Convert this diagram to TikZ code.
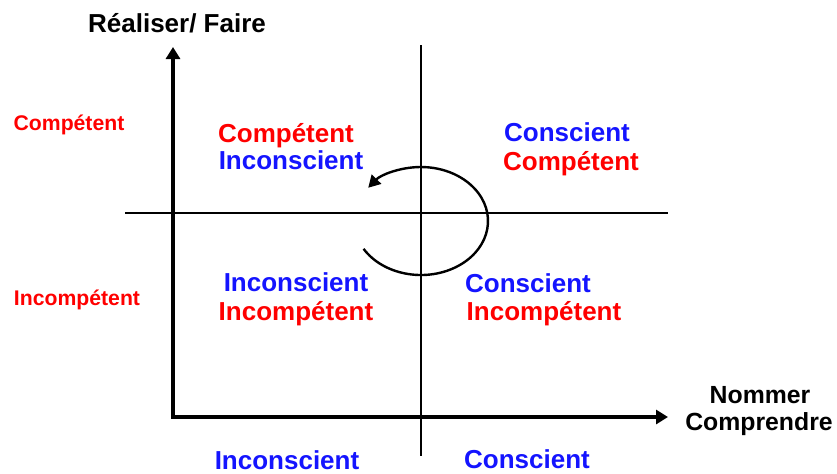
\documentclass[tikz,border=0pt]{standalone}
\usepackage{fontspec}
\setmainfont{Liberation Sans}
\usetikzlibrary{arrows.meta}
\definecolor{qred}{RGB}{255,0,0}
\definecolor{qblue}{RGB}{20,20,255}
\tikzset{
  lbl/.style={font=\bfseries\fontsize{13}{15}\selectfont, inner sep=0pt, anchor=base},
  axlbl/.style={font=\bfseries\fontsize{12.4}{15}\selectfont, inner sep=0pt, anchor=base},
  side/.style={font=\bfseries\fontsize{10.6}{13}\selectfont, inner sep=0pt, anchor=base, text=qred},
  rd/.style={lbl, text=qred},
  bl/.style={lbl, text=qblue},
  axis/.style={line width=2pt, -{Triangle[length=6pt,width=7pt]}},
  thin/.style={line width=0.7pt},
  turn/.style={line width=1.2pt, -{Triangle[length=6pt,width=6.5pt]}}
}
\begin{document}
\begin{tikzpicture}[x=0.5pt,y=-0.5pt]
\useasboundingbox (0,0) rectangle (837,473);
% coordinates
\coordinate (o) at (173,417);
\coordinate (ytip) at (173,47);
\coordinate (xtip) at (668,417);
\coordinate (vt) at (421,45);
\coordinate (vb) at (421,456);
\coordinate (hl) at (125,213);
\coordinate (hr) at (668,213);
\coordinate (c) at (421,221);
% thin cross
\draw[thin] (vt) -- (vb);
\draw[thin] (hl) -- (hr);
% axes
\draw[axis, line cap=butt] ([yshift=1pt]o) -- (ytip);
\draw[axis] ([xshift=-1pt]o) -- (xtip);
% turning arrow
\draw[turn] ([shift={(211:33.5pt and 27pt)}]c) arc[start angle=211, end angle=502, x radius=33.5pt, y radius=27pt];
% axis titles
\node[lbl] (ttl) at (177,32) {Réaliser/ Faire};
\node[axlbl] (nom) at (760,403) {Nommer};
\node[axlbl] (comp) at (759,430) {Comprendre};
% side labels
\node[side] (sc) at (69,130) {Compétent};
\node[side] (si) at (77,305) {Incompétent};
% quadrants
\node[rd] (q1a) at (286,142) {Compétent};
\node[bl] (q1b) at (291,169) {Inconscient};
\node[bl] (q2a) at (567,141) {Conscient};
\node[rd] (q2b) at (571,170) {Compétent};
\node[bl] (q3a) at (296,291) {Inconscient};
\node[rd] (q3b) at (296,320) {Incompétent};
\node[bl] (q4a) at (528,292) {Conscient};
\node[rd] (q4b) at (544,320) {Incompétent};
% bottom labels
\node[bl] (bi) at (287,469) {Inconscient};
\node[bl] (bc) at (527,468) {Conscient};
\end{tikzpicture}
\end{document}
